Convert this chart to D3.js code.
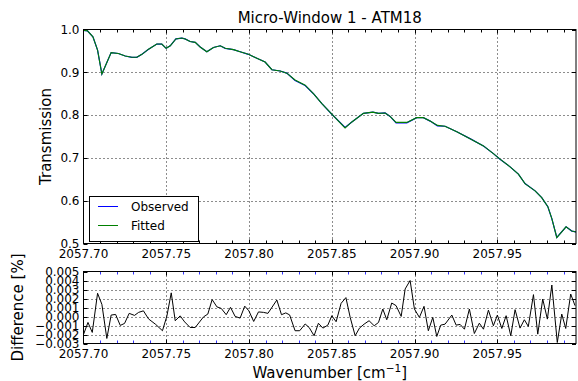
<!DOCTYPE html>
<html>
<head>
<meta charset="utf-8">
<script src="https://cdn.jsdelivr.net/npm/d3@7"></script>
<style>
  html, body { margin: 0; padding: 0; background: #fff; }
  svg { display: block; font-family: "DejaVu Sans", sans-serif; }
</style>
</head>
<body>
<svg id="chart" width="578" height="381"></svg>
<script>
// Spectrum vertices: wavenumber [cm^-1] and transmission
const specWavenumber = [
  2057.7000, 2057.7024, 2057.7057, 2057.7085, 2057.7111, 2057.7167, 2057.7211, 2057.7252,
  2057.7292, 2057.7322, 2057.7353, 2057.7393, 2057.7443, 2057.7473, 2057.7499, 2057.7524,
  2057.7558, 2057.7594, 2057.7614, 2057.7644, 2057.7675, 2057.7705, 2057.7745, 2057.7785,
  2057.7826, 2057.7856, 2057.7906, 2057.7946, 2057.7996, 2057.8047, 2057.8097, 2057.8138,
  2057.8188, 2057.8228, 2057.8278, 2057.8339, 2057.8389, 2057.8440, 2057.8500, 2057.8580,
  2057.8621, 2057.8691, 2057.8748, 2057.8782, 2057.8822, 2057.8852, 2057.8888, 2057.8953,
  2057.9013, 2057.9053, 2057.9094, 2057.9138, 2057.9184, 2057.9255, 2057.9335, 2057.9416,
  2057.9476, 2057.9516, 2057.9577, 2057.9627, 2057.9667, 2057.9728, 2057.9768, 2057.9805,
  2057.9829, 2057.9859, 2057.9915, 2057.9950, 2057.9975
];
const observed = [
  0.998, 0.997, 0.983, 0.952, 0.896, 0.946, 0.944, 0.938,
  0.935, 0.935, 0.942, 0.954, 0.966, 0.966, 0.956, 0.962,
  0.978, 0.980, 0.978, 0.972, 0.970, 0.959, 0.948, 0.958,
  0.962, 0.956, 0.953, 0.948, 0.942, 0.933, 0.924, 0.906,
  0.903, 0.898, 0.881, 0.869, 0.850, 0.827, 0.802, 0.771,
  0.784, 0.804, 0.807, 0.804, 0.805, 0.797, 0.782, 0.782,
  0.794, 0.794, 0.786, 0.775, 0.774, 0.761, 0.745, 0.728,
  0.710, 0.697, 0.679, 0.662, 0.640, 0.623, 0.607, 0.586,
  0.558, 0.514, 0.539, 0.529, 0.527
];
const fitted = [
  0.998, 0.997, 0.983, 0.952, 0.896, 0.946, 0.944, 0.938,
  0.935, 0.935, 0.942, 0.954, 0.966, 0.966, 0.956, 0.962,
  0.978, 0.980, 0.978, 0.972, 0.970, 0.959, 0.948, 0.958,
  0.962, 0.956, 0.953, 0.948, 0.942, 0.933, 0.924, 0.906,
  0.903, 0.898, 0.882, 0.870, 0.850, 0.827, 0.802, 0.770,
  0.784, 0.804, 0.807, 0.804, 0.805, 0.797, 0.783, 0.783,
  0.794, 0.794, 0.786, 0.776, 0.774, 0.761, 0.745, 0.728,
  0.710, 0.697, 0.679, 0.662, 0.640, 0.623, 0.607, 0.586,
  0.558, 0.514, 0.539, 0.529, 0.527
];

// Residual vertices: wavenumber [cm^-1] and difference [%]
const diffWavenumber = [
  2057.7000, 2057.7027, 2057.7053, 2057.7085, 2057.7111, 2057.7141, 2057.7167, 2057.7194,
  2057.7222, 2057.7248, 2057.7276, 2057.7308, 2057.7333, 2057.7362, 2057.7393, 2057.7436,
  2057.7477, 2057.7504, 2057.7530, 2057.7554, 2057.7584, 2057.7611, 2057.7644, 2057.7675,
  2057.7725, 2057.7751, 2057.7777, 2057.7806, 2057.7832, 2057.7862, 2057.7888, 2057.7916,
  2057.7946, 2057.7974, 2057.7999, 2057.8028, 2057.8057, 2057.8087, 2057.8114, 2057.8168,
  2057.8196, 2057.8222, 2057.8245, 2057.8278, 2057.8306, 2057.8339, 2057.8363, 2057.8393,
  2057.8419, 2057.8446, 2057.8476, 2057.8500, 2057.8526, 2057.8556, 2057.8585, 2057.8611,
  2057.8641, 2057.8667, 2057.8695, 2057.8725, 2057.8756, 2057.8782, 2057.8808, 2057.8832,
  2057.8862, 2057.8888, 2057.8919, 2057.8943, 2057.8973, 2057.8999, 2057.9029, 2057.9057,
  2057.9083, 2057.9110, 2057.9134, 2057.9158, 2057.9184, 2057.9225, 2057.9251, 2057.9275,
  2057.9301, 2057.9331, 2057.9361, 2057.9391, 2057.9416, 2057.9446, 2057.9476, 2057.9500,
  2057.9527, 2057.9553, 2057.9581, 2057.9607, 2057.9637, 2057.9663, 2057.9687, 2057.9718,
  2057.9744, 2057.9774, 2057.9802, 2057.9829, 2057.9862, 2057.9889, 2057.9913, 2057.9943,
  2057.9969
];
const difference = [
  -0.00200, -0.00066, -0.00177, 0.00258, 0.00135, -0.00244, 0.00016, 0.00023,
  -0.00099, -0.00077, 0.00035, 0.00012, 0.00046, 0.00063, -0.00027, -0.00088,
  -0.00158, 0.00007, 0.00263, -0.00047, 0.00007, -0.00060, -0.00122, -0.00122,
  -0.00004, 0.00027, 0.00188, 0.00107, 0.00090, 0.00020, 0.00102, 0.00001,
  -0.00018, 0.00115, 0.00063, -0.00055, 0.00051, 0.00046, 0.00035, 0.00183,
  0.00020, 0.00040, 0.00018, -0.00158, -0.00158, -0.00083, -0.00122, -0.00214,
  -0.00075, -0.00129, -0.00096, 0.00009, -0.00058, 0.00146, 0.00210, -0.00010,
  -0.00214, -0.00129, -0.00085, -0.00047, -0.00103, -0.00066, 0.00083, -0.00036,
  0.00150, 0.00121, 0.00001, 0.00306, 0.00400, 0.00083, -0.00010, 0.00113,
  -0.00158, -0.00010, -0.00222, -0.00096, -0.00085, 0.00016, -0.00096, -0.00088,
  -0.00141, 0.00083, -0.00189, -0.00074, -0.00141, 0.00071, -0.00103, 0.00016,
  -0.00133, 0.00009, -0.00214, 0.00076, -0.00129, -0.00036, -0.00110, 0.00243,
  -0.00196, 0.00194, -0.00029, 0.00350, -0.00289, 0.00027, -0.00133, 0.00250,
  0.00121
];

// Axis ticks and labels
const xTicks = [2057.70, 2057.75, 2057.80, 2057.85, 2057.90, 2057.95];
const xMinorTicks = d3.range(1, 30).map(i => 2057.70 + i * 0.01);
const transTicks = [0.5, 0.6, 0.7, 0.8, 0.9, 1.0];
const diffTicks = [-0.003, -0.002, -0.001, 0.000, 0.001, 0.002, 0.003, 0.004, 0.005];
const seriesNames = ["Observed", "Fitted"];
const seriesColors = ["#0000ff", "#008000"];

const svg = d3.select("#chart");
const left = 83.5, right = 576;
const top1 = 29.5, bottom1 = 243.5;
const top2 = 271.5, bottom2 = 343.5;

const x = d3.scaleLinear().domain([2057.70, 2057.9975]).range([left, right]);
const yT = d3.scaleLinear().domain([0.5, 1.0]).range([bottom1, top1]);
const yD = d3.scaleLinear().domain([-0.003, 0.005]).range([bottom2, top2]);

const fmt2 = d3.format(".2f");
const minus = s => s.replace("-", "\u2212");

function panel(y, yTicks, yFmt, top, bottom, xTickColor, clipId) {
  const g = svg.append("g");
  // dotted grid at the major ticks
  g.append("g").selectAll("line").data(xTicks.slice(1)).join("line")
    .attr("x1", d => Math.round(x(d)) + 0.5).attr("x2", d => Math.round(x(d)) + 0.5)
    .attr("y1", top).attr("y2", bottom)
    .attr("stroke", "#000").attr("stroke-width", 0.9).attr("stroke-dasharray", "1,3");
  g.append("g").selectAll("line").data(yTicks.slice(1, -1)).join("line")
    .attr("x1", left).attr("x2", right)
    .attr("y1", d => Math.round(y(d)) + 0.5).attr("y2", d => Math.round(y(d)) + 0.5)
    .attr("stroke", "#000").attr("stroke-width", 0.9).attr("stroke-dasharray", "1,3");

  svg.append("clipPath").attr("id", clipId).append("rect")
    .attr("x", left).attr("y", top).attr("width", right - left).attr("height", bottom - top);

  // x ticks (inward, top and bottom)
  const tk = g.append("g");
  xMinorTicks.forEach(t => {
    const isMajor = xTicks.some(m => Math.abs(m - t) < 1e-6);
    const len = isMajor ? 4 : 3;
    const col = isMajor ? "#000" : xTickColor;
    const px = Math.round(x(t)) + 0.5;
    tk.append("line").attr("x1", px).attr("x2", px).attr("y1", bottom).attr("y2", bottom - len)
      .attr("stroke", col).attr("stroke-width", 1);
    tk.append("line").attr("x1", px).attr("x2", px).attr("y1", top).attr("y2", top + len)
      .attr("stroke", col).attr("stroke-width", 1);
  });
  // y ticks (inward, left and right)
  yTicks.forEach(t => {
    const py = Math.round(y(t)) + 0.5;
    tk.append("line").attr("x1", left).attr("x2", left + 4).attr("y1", py).attr("y2", py)
      .attr("stroke", "#000");
    tk.append("line").attr("x1", right).attr("x2", right - 4).attr("y1", py).attr("y2", py)
      .attr("stroke", "#000");
  });

  // tick labels
  g.append("g").selectAll("text").data(xTicks).join("text")
    .attr("x", d => x(d)).attr("y", bottom + 5).attr("dy", "0.76em")
    .attr("text-anchor", "middle").attr("font-size", 12).attr("fill", "#000")
    .text(d => fmt2(d));
  g.append("g").selectAll("text").data(yTicks).join("text")
    .attr("x", left - 4).attr("y", d => y(d)).attr("dy", "0.36em")
    .attr("text-anchor", "end").attr("font-size", 12).attr("fill", "#000")
    .text(d => minus(yFmt(d)));
  return g;
}

// ---- Transmission panel ----
panel(yT, transTicks, d3.format(".1f"), top1, bottom1, "#000", "clipTop");
const lineT = vals => d3.line().x((d, i) => x(specWavenumber[i])).y(d => yT(d))(vals);
const lines = svg.append("g").attr("clip-path", "url(#clipTop)");
lines.append("path").attr("d", lineT(observed))
  .attr("fill", "none").attr("stroke", seriesColors[0]).attr("stroke-width", 1.2);
lines.append("path").attr("d", lineT(fitted))
  .attr("fill", "none").attr("stroke", seriesColors[1]).attr("stroke-width", 1.1);
svg.append("rect").attr("x", left).attr("y", top1).attr("width", right - left).attr("height", bottom1 - top1)
  .attr("fill", "none").attr("stroke", "#000").attr("stroke-width", 1);

// legend
const lg = svg.append("g");
lg.append("rect").attr("x", 89.5).attr("y", 196.5).attr("width", 109).attr("height", 45)
  .attr("fill", "#fff").attr("stroke", "#000").attr("stroke-width", 1);
seriesNames.forEach((name, i) => {
  const yy = 206.5 + i * 19;
  lg.append("line").attr("x1", 98).attr("x2", 118).attr("y1", yy).attr("y2", yy)
    .attr("stroke", seriesColors[i]).attr("stroke-width", 1);
  lg.append("text").attr("x", 131).attr("y", yy).attr("dy", "0.36em")
    .attr("font-size", 12).attr("fill", "#000").text(name);
});

// title and y label
svg.append("text").attr("x", (left + right) / 2).attr("y", 23)
  .attr("text-anchor", "middle").attr("font-size", 15).attr("fill", "#000")
  .text("Micro-Window 1 - ATM18");
svg.append("text").attr("transform", `translate(51,${(top1 + bottom1) / 2}) rotate(-90)`)
  .attr("text-anchor", "middle").attr("font-size", 15).attr("fill", "#000")
  .text("Transmission");

// ---- Difference panel ----
panel(yD, diffTicks, d3.format(".3f"), top2, bottom2, "#3333ff", "clipBot");
svg.append("g").attr("clip-path", "url(#clipBot)").append("path")
  .attr("d", d3.line().x((d, i) => x(diffWavenumber[i])).y(d => yD(d))(difference))
  .attr("fill", "none").attr("stroke", "#000").attr("stroke-width", 1);
svg.append("rect").attr("x", left).attr("y", top2).attr("width", right - left).attr("height", bottom2 - top2)
  .attr("fill", "none").attr("stroke", "#000").attr("stroke-width", 1);

svg.append("text").attr("transform", `translate(23,${(top2 + bottom2) / 2}) rotate(-90)`)
  .attr("text-anchor", "middle").attr("font-size", 15).attr("fill", "#000")
  .text("Difference [%]");

const xl = svg.append("text").attr("x", (left + right) / 2).attr("y", 378)
  .attr("text-anchor", "middle").attr("font-size", 15).attr("fill", "#000");
xl.append("tspan").text("Wavenumber [cm");
xl.append("tspan").attr("dy", -6).attr("font-size", 10.5).text("\u22121");
xl.append("tspan").attr("dy", 6).text("]");
</script>
</body>
</html>
